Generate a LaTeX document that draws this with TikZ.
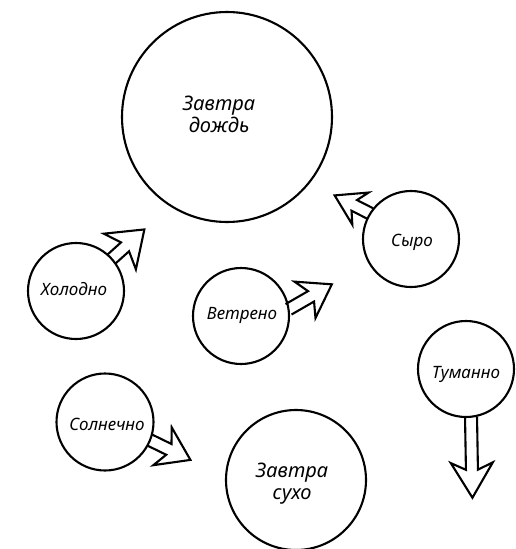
\documentclass[tikz,border=0pt]{standalone}
\usepackage{fontspec}
\setmainfont{Noto Sans}
\newcommand\hollowarrow[5]{% #1 base point, #2 direction, #3 length, #4 head half width, #5 head length
  \begin{scope}[shift={(#1)}, rotate=#2]
    \draw[harrow] (0,6) -- ({#3-#5+7},6) -- ({#3-#5},#4) -- (#3,0)
      -- ({#3-#5},-#4) -- ({#3-#5+7},-6) -- (0,-6);
  \end{scope}}
\begin{document}
\begin{tikzpicture}[x=1pt,y=-1pt,
  circ/.style={draw, circle, line width=2.1pt, inner sep=0pt, outer sep=0pt},
  lbl/.style={font=\fontsize{17}{20}\selectfont\itshape, inner sep=0pt, anchor=base},
  biglbl/.style={font=\fontsize{20}{22}\selectfont\itshape, inner sep=0pt, align=center},
  harrow/.style={draw, line width=2.1pt, line join=miter}]
\useasboundingbox (0,0) rectangle (516,549);

% circles
\node[circ, minimum size=210pt] (rain) at (227,117) {};
\node[circ, minimum size=140pt] (dry)  at (296,480) {};
\node[circ, minimum size=96pt]  (cold) at (76,291) {};
\node[circ, minimum size=96pt]  (wind) at (241,316) {};
\node[circ, minimum size=96pt]  (damp) at (411,239) {};
\node[circ, minimum size=97pt]  (sun)  at (105,422) {};
\node[circ, minimum size=96pt]  (fog)  at (466,369) {};

% labels
\node[biglbl] (rainT) at (219,114) {Завтра\\дождь};
\node[biglbl] (dryT)  at (292,484) {Завтра\\сухо};
\node[lbl] (coldT) at (74,295)  {Холодно};
\node[lbl] (windT) at (242,319) {Ветрено};
\node[lbl] (dampT) at (412,246) {Сыро};
\node[lbl] (sunT)  at (107,430) {Солнечно};
\node[lbl] (fogT)  at (466,378) {Туманно};

% hollow arrows
\hollowarrow{cold.42}{42}{44}{24}{33}
\hollowarrow{wind.8}{30}{50}{21}{31}
\hollowarrow{damp.148}{153}{40}{18}{29}
\hollowarrow{sun.-22}{-26}{45}{21}{31}
\hollowarrow{fog.-84}{-89}{81}{21}{35}
\end{tikzpicture}
\end{document}
